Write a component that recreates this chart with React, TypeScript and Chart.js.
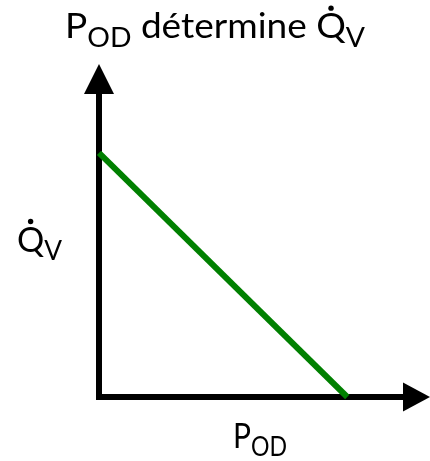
import React, { useEffect, useRef } from "react";
import { Chart, registerables } from "chart.js";

Chart.register(...registerables);

// Data (arbitrary units: linear relation, higher P_OD -> lower Q̇_V)
const xValues = [0, 7.5];
const yValues = [7.33, 0];
const axisMin = 0;
const axisMax = 10;

type Part = { t: string; sub?: boolean; dot?: boolean };
const titleParts: Part[] = [
  { t: "P" },
  { t: "OD", sub: true },
  { t: " détermine " },
  { t: "Q", dot: true },
  { t: "V", sub: true },
];
const yLabelParts: Part[] = [{ t: "Q", dot: true }, { t: "V", sub: true }];
const xLabelParts: Part[] = [{ t: "P" }, { t: "OD", sub: true }];

const FONT = 'Lato, "Open Sans", sans-serif';
const LINE_COLOR = "#008000";

function drawRich(
  ctx: CanvasRenderingContext2D,
  parts: Part[],
  x: number,
  baseline: number,
  targetWidth: number,
  mainSize: number,
  subSize: number,
  subDrop: number
) {
  const widths = parts.map((p) => {
    ctx.font = `${p.sub ? subSize : mainSize}px ${FONT}`;
    return ctx.measureText(p.t).width;
  });
  const total = widths.reduce((a, b) => a + b, 0);
  const s = targetWidth / total;
  ctx.save();
  ctx.translate(x, baseline);
  ctx.scale(s, 1);
  ctx.fillStyle = "#000";
  ctx.textBaseline = "alphabetic";
  ctx.textAlign = "left";
  let cx = 0;
  parts.forEach((p, i) => {
    ctx.font = `${p.sub ? subSize : mainSize}px ${FONT}`;
    ctx.fillText(p.t, cx, p.sub ? subDrop : 0);
    if (p.dot) {
      const cap = mainSize * 0.716;
      ctx.beginPath();
      ctx.ellipse(cx + widths[i] / 2, -cap - 5.5, 2.7 / s, 2.7, 0, 0, Math.PI * 2);
      ctx.fill();
    }
    cx += widths[i];
  });
  ctx.restore();
}

const decorPlugin = {
  id: "decor",
  beforeDatasetsDraw(chart: any) {
    const { ctx, chartArea, scales } = chart;
    const x0 = scales.x.getPixelForValue(0);
    const y0 = scales.y.getPixelForValue(0);
    ctx.save();
    ctx.strokeStyle = "#000";
    ctx.fillStyle = "#000";
    ctx.lineWidth = 6;
    ctx.lineCap = "butt";
    // y axis
    ctx.beginPath();
    ctx.moveTo(x0, y0 + 3);
    ctx.lineTo(x0, chartArea.top + 30);
    ctx.stroke();
    ctx.beginPath();
    ctx.moveTo(x0 - 15, chartArea.top + 30);
    ctx.lineTo(x0 + 15, chartArea.top + 30);
    ctx.lineTo(x0, chartArea.top);
    ctx.closePath();
    ctx.fill();
    // x axis
    ctx.beginPath();
    ctx.moveTo(x0 - 3, y0);
    ctx.lineTo(chartArea.right - 27, y0);
    ctx.stroke();
    ctx.beginPath();
    ctx.moveTo(chartArea.right - 27, y0 - 14.5);
    ctx.lineTo(chartArea.right - 27, y0 + 14.5);
    ctx.lineTo(chartArea.right, y0);
    ctx.closePath();
    ctx.fill();
    ctx.restore();
  },
  afterDraw(chart: any) {
    const { ctx } = chart;
    drawRich(ctx, titleParts, 65, 38, 300, 34, 26, 9);
    drawRich(ctx, yLabelParts, 17, 252, 45, 35, 27, 8);
    drawRich(ctx, xLabelParts, 233, 448, 54, 35, 27, 8);
  },
};

export default function App() {
  const ref = useRef<HTMLCanvasElement | null>(null);
  useEffect(() => {
    document.body.style.margin = "0";
    const canvas = ref.current;
    if (!canvas) return;
    const chart = new Chart(canvas, {
      type: "line",
      data: {
        datasets: [
          {
            data: xValues.map((x, i) => ({ x, y: yValues[i] })),
            borderColor: LINE_COLOR,
            borderWidth: 6,
            pointRadius: 0,
            fill: false,
            tension: 0,
            clip: false as any,
          },
        ],
      },
      options: {
        animation: false,
        responsive: false,
        devicePixelRatio: 1,
        layout: { padding: { left: 99, right: 0, top: 64, bottom: 64 } },
        plugins: { legend: { display: false }, tooltip: { enabled: false }, title: { display: false } },
        scales: {
          x: { type: "linear", min: axisMin, max: axisMax, display: false },
          y: { type: "linear", min: axisMin, max: axisMax, display: false },
        },
      },
      plugins: [decorPlugin],
    });
    return () => chart.destroy();
  }, []);
  return (
    <div style={{ width: 430, height: 461, background: "#fff" }}>
      <canvas ref={ref} width={430} height={461} style={{ display: "block" }} />
    </div>
  );
}
